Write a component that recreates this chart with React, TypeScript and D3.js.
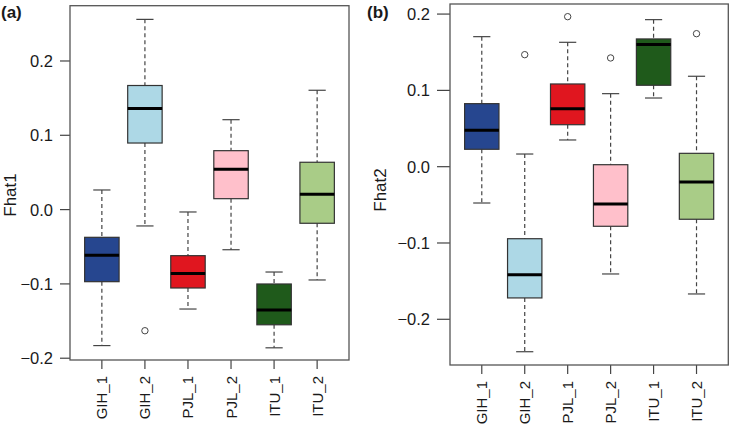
import React from "react";
import * as d3 from "d3";

const categories = ["GIH_1", "GIH_2", "PJL_1", "PJL_2", "ITU_1", "ITU_2"];
const boxColors = ["#26468f", "#add8e6", "#e0161f", "#ffc0cb", "#1f5a1b", "#a9cc87"];

// Panel (a) Fhat1
const fhat1Low = [-0.183, -0.022, -0.1338, -0.054, -0.186, -0.0947];
const fhat1Q1 = [-0.097, 0.0896, -0.1055, 0.0147, -0.155, -0.0184];
const fhat1Med = [-0.0615, 0.136, -0.086, 0.0542, -0.135, 0.0206];
const fhat1Q3 = [-0.0373, 0.167, -0.062, 0.0793, -0.1001, 0.0637];
const fhat1High = [0.0264, 0.256, -0.0032, 0.121, -0.084, 0.1606];
const fhat1Outliers: number[][] = [[], [-0.163], [], [], [], []];
const fhat1Ticks = [-0.2, -0.1, 0.0, 0.1, 0.2];

// Panel (b) Fhat2
const fhat2Low = [-0.0476, -0.2425, 0.035, -0.1406, 0.09, -0.1668];
const fhat2Q1 = [0.0228, -0.172, 0.055, -0.0781, 0.1067, -0.0689];
const fhat2Med = [0.0477, -0.1415, 0.076, -0.0489, 0.16, -0.02];
const fhat2Q3 = [0.0826, -0.0944, 0.1084, 0.0026, 0.1674, 0.0175];
const fhat2High = [0.1704, 0.0166, 0.163, 0.0957, 0.1927, 0.1185];
const fhat2Outliers: number[][] = [[], [0.1468], [0.1966], [0.1425], [], [0.1743]];
const fhat2Ticks = [-0.2, -0.1, 0.0, 0.1, 0.2];

const FONT = "'Liberation Sans', Arial, Helvetica, sans-serif";

type PanelProps = {
  left: number;
  right: number;
  top: number;
  bottom: number;
  yDomain: [number, number];
  low: number[];
  q1: number[];
  med: number[];
  q3: number[];
  high: number[];
  outliers: number[][];
  ticks: number[];
  ylab: string;
  ylabX: number;
  ylabY: number;
  tag: string;
  tagX: number;
  tickLen: number;
};

function Panel(p: PanelProps) {
  const x = d3.scaleLinear().domain([0.26, categories.length + 0.74]).range([p.left, p.right]);
  const y = d3.scaleLinear().domain(p.yDomain).range([p.bottom, p.top]);
  const unit = x(1) - x(0);
  const half = 0.4 * unit;
  const cap = 0.2 * unit;
  const fmt = d3.format(".1f");
  return (
    <g>
      {categories.map((c, i) => {
        const cx = x(i + 1);
        return (
          <g key={c}>
            <line x1={cx} x2={cx} y1={y(p.high[i])} y2={y(p.q3[i])} stroke="#444" strokeWidth={1.2} strokeDasharray="4,3" />
            <line x1={cx} x2={cx} y1={y(p.q1[i])} y2={y(p.low[i])} stroke="#444" strokeWidth={1.2} strokeDasharray="4,3" />
            <line x1={cx - cap} x2={cx + cap} y1={y(p.high[i])} y2={y(p.high[i])} stroke="#444" strokeWidth={1.2} />
            <line x1={cx - cap} x2={cx + cap} y1={y(p.low[i])} y2={y(p.low[i])} stroke="#444" strokeWidth={1.2} />
            <rect x={cx - half} y={y(p.q3[i])} width={2 * half} height={y(p.q1[i]) - y(p.q3[i])} fill={boxColors[i]} stroke="#333" strokeWidth={1.2} />
            <line x1={cx - half} x2={cx + half} y1={y(p.med[i])} y2={y(p.med[i])} stroke="#000" strokeWidth={3} />
            {p.outliers[i].map((o, j) => (
              <circle key={j} cx={cx} cy={y(o)} r={3.2} fill="none" stroke="#444" strokeWidth={1} />
            ))}
            <line x1={cx} x2={cx} y1={p.bottom} y2={p.bottom + 9} stroke="#444" strokeWidth={1.2} />
            <text
              transform={`translate(${cx + 5.5},${p.bottom + 16}) rotate(-90)`}
              textAnchor="end"
              fontFamily={FONT}
              fontSize={15}
              fill="#1a1a1a"
            >
              {c}
            </text>
          </g>
        );
      })}
      {p.ticks.map((t) => (
        <g key={t}>
          <line x1={p.left - p.tickLen} x2={p.left} y1={y(t)} y2={y(t)} stroke="#444" strokeWidth={1.2} />
          <text
            x={p.left - p.tickLen - 7}
            y={y(t)}
            dy="0.36em"
            textAnchor="end"
            fontFamily={FONT}
            fontSize={16.5}
            fill="#1a1a1a"
          >
            {fmt(t)}
          </text>
        </g>
      ))}
      <rect x={p.left} y={p.top} width={p.right - p.left} height={p.bottom - p.top} fill="none" stroke="#555" strokeWidth={1.3} />
      <text
        transform={`translate(${p.ylabX},${p.ylabY}) rotate(-90)`}
        textAnchor="middle"
        fontFamily={FONT}
        fontSize={17}
        fill="#1a1a1a"
      >
        {p.ylab}
      </text>
      <text x={p.tagX} y={18} fontFamily={FONT} fontSize={17} fontWeight="bold" fill="#1a1a1a">
        {p.tag}
      </text>
    </g>
  );
}

export default function App() {
  return (
    <svg width={732} height={427} style={{ position: "absolute", left: 0, top: 0, background: "#fff" }}>
      <Panel
        left={70}
        right={349}
        top={5.7}
        bottom={360}
        yDomain={[-0.2024, 0.2744]}
        low={fhat1Low}
        q1={fhat1Q1}
        med={fhat1Med}
        q3={fhat1Q3}
        high={fhat1High}
        outliers={fhat1Outliers}
        ticks={fhat1Ticks}
        ylab="Fhat1"
        ylabX={16}
        ylabY={195}
        tag="(a)"
        tagX={1}
        tickLen={10}
      />
      <Panel
        left={450}
        right={728.3}
        top={4}
        bottom={365}
        yDomain={[-0.2599, 0.2132]}
        low={fhat2Low}
        q1={fhat2Q1}
        med={fhat2Med}
        q3={fhat2Q3}
        high={fhat2High}
        outliers={fhat2Outliers}
        ticks={fhat2Ticks}
        ylab="Fhat2"
        ylabX={386}
        ylabY={190}
        tag="(b)"
        tagX={367}
        tickLen={13}
      />
    </svg>
  );
}
